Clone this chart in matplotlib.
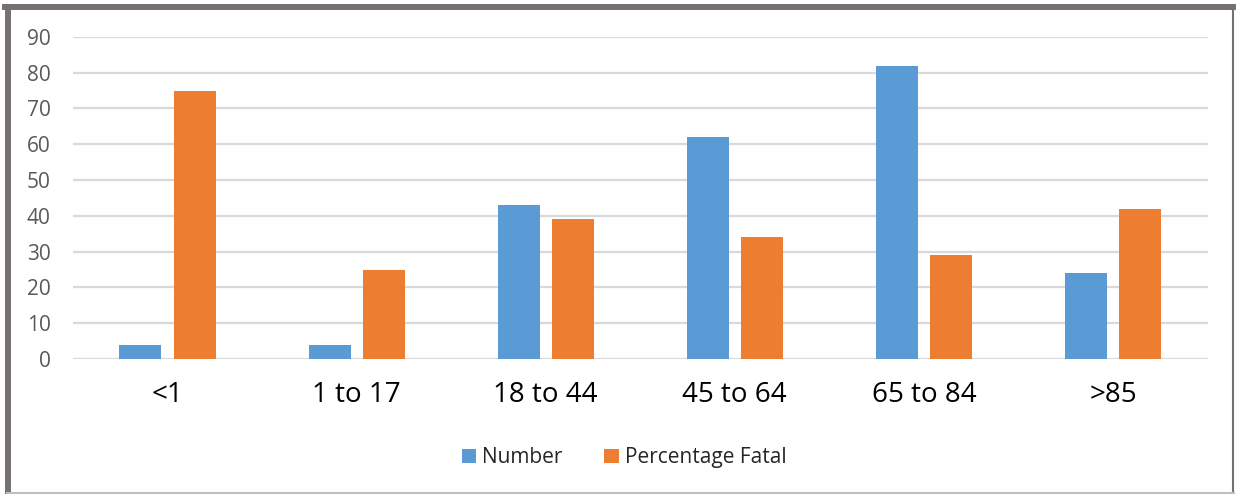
import matplotlib
matplotlib.use("Agg")
from matplotlib import pyplot as plt
from matplotlib.lines import Line2D
import numpy as np

# age groups and the two series shown for each
age_groups = ['<1', '1 to 17', '18 to 44', '45 to 64', '65 to 84', '>85']
number = [4, 4, 43, 62, 82, 24]
pct_fatal = [75, 25, 39, 34, 29, 42]
y_ticks = [0, 10, 20, 30, 40, 50, 60, 70, 80, 90]

blue = '#5B9BD5'
orange = '#ED7D31'

plt.rcParams['font.family'] = ['Open Sans', 'DejaVu Sans']

fig = plt.figure(figsize=(12.36, 4.94), dpi=100)
ax = fig.add_axes([0.059, 0.2733, 0.918, 0.652])

x = np.arange(len(age_groups))
w = 0.222
ax.bar(x - 0.143, number, w, color=blue, label='Number', zorder=3)
ax.bar(x + 0.143, pct_fatal, w, color=orange, label='Percentage Fatal', zorder=3)

ax.set_xlim(-0.5, len(age_groups) - 0.5)
ax.set_ylim(0, 90)
ax.set_yticks(y_ticks)
ax.set_xticks(x)
ax.set_xticklabels(age_groups, fontsize=20, color='black')
ax.tick_params(axis='y', length=0, pad=16, labelsize=15, labelcolor='#595959')
ax.tick_params(axis='x', length=0, pad=16)
ax.grid(axis='y', color='#D9D9D9', linewidth=1.6, zorder=0)
for s in ax.spines.values():
    s.set_visible(False)

fig.legend(loc='center', bbox_to_anchor=(0.505, 0.073), ncol=2, frameon=False,
           fontsize=15, handlelength=0.7, handleheight=0.7, handletextpad=0.3,
           columnspacing=2.0, labelcolor='#262626')

# border around the figure box
fig.add_artist(Line2D([0.004, 0.9985], [0.985, 0.985], color='#767171', lw=4.3))
fig.add_artist(Line2D([0.0062, 0.0062], [0.0, 0.985], color='#767171', lw=4.3))
fig.add_artist(Line2D([0.9975, 0.9975], [0.0, 0.985], color='#767171', lw=1.5))
fig.add_artist(Line2D([0.006, 0.998], [0.003, 0.003], color='#BFBFBF', lw=1.5))

fig.savefig('out.png', dpi=100)
